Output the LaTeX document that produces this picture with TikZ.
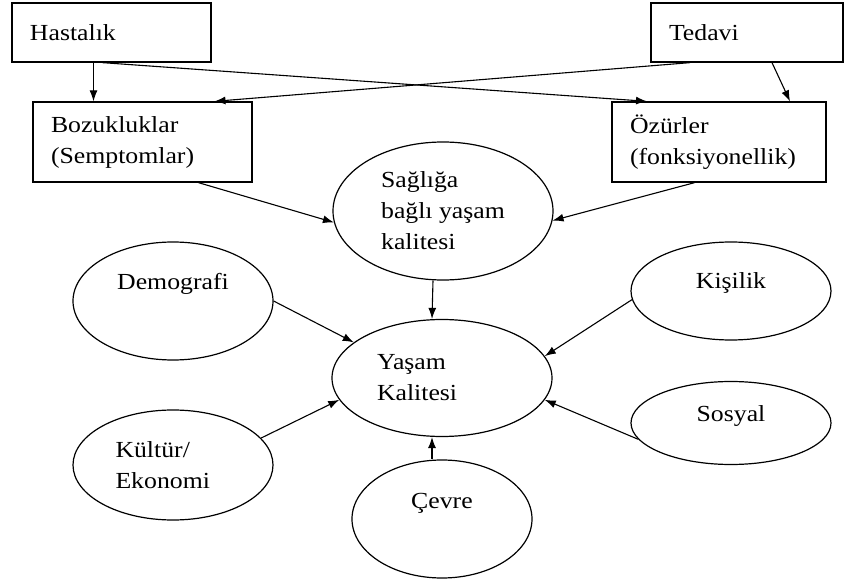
\documentclass[tikz,border=0pt]{standalone}
\usepackage{fontspec}
\setmainfont[FakeStretch=1.12]{Liberation Serif}
\usetikzlibrary{shapes.geometric, arrows.meta}

\begin{document}
\begin{tikzpicture}[x=1pt, y=-1pt, font=\fontsize{23}{31}\selectfont,
    kutu/.style={draw, line width=1.3pt, align=left, inner xsep=18pt, inner ysep=0pt},
    oval/.style={draw, ellipse, line width=1.2pt, align=left, inner sep=0pt},
    ok/.style={line width=1.1pt, -{Latex[length=11pt, width=8pt]}}]

    \useasboundingbox (0, 0) rectangle (844, 585);

    % ust kutular
    \node [kutu, text width=163pt, minimum height=59pt] (hastalik) at (111.5, 32.5) {Hastalık};

    \node [kutu, text width=156pt, minimum height=59pt] (tedavi) at (747, 32.5) {Tedavi};

    \node [kutu, text width=183pt, minimum height=80pt] (bozukluk) at (142.5, 142)
    {Bozukluklar\\(Semptomlar)};

    \node [kutu, text width=178pt, minimum height=80pt] (ozur) at (719, 142)
    {Özürler\\(fonksiyonellik)};

    % elipsler
    \node [oval, minimum width=220pt, minimum height=138pt] (saglik) at (443, 211)
    {Sağlığa\\bağlı yaşam\\kalitesi};

    \node [oval, text width=130pt, minimum width=220pt, minimum height=117pt] (yasam)
    at (442, 378) {Yaşam\\Kalitesi};

    \node [oval, minimum width=200pt, minimum height=118pt, text depth=40pt] (demografi)
    at (173, 301) {Demografi};

    \node [oval, minimum width=200pt, minimum height=98pt, text depth=20pt] (kisilik)
    at (731, 291) {Kişilik};

    \node [oval, text width=115pt, minimum width=200pt, minimum height=110pt] (kultur)
    at (173, 465) {Kültür/\\Ekonomi};

    \node [oval, minimum width=200pt, minimum height=83pt, text depth=18pt] (sosyal)
    at (731, 423) {Sosyal};

    \node [oval, minimum width=180pt, minimum height=118pt, text depth=36pt] (cevre)
    at (442, 519) {Çevre};

    % oklar
    \draw [ok] ([xshift=-18pt]hastalik.south) -- ([xshift=-18pt]hastalik.south |- bozukluk.north);

    \draw [ok] ([xshift=-9pt]hastalik.south) -- ([xshift=-72pt]ozur.north);

    \draw [ok] ([xshift=-57pt]tedavi.south) -- ([xshift=72pt]bozukluk.north);

    \draw [ok] ([xshift=25pt]tedavi.south) -- ([xshift=71pt]ozur.north);

    \draw [ok] (bozukluk.-36) -- (saglik.186);

    \draw [ok] (ozur.-121) -- (saglik.-5);

    \draw [ok] ([xshift=-10pt]saglik.south) -- ([xshift=-10pt]yasam.north);

    \draw [ok] (demografi.east) -- (yasam.158);

    \draw [ok] (kultur.17) -- (yasam.192);

    \draw [ok] (kisilik.185) -- (yasam.12);

    \draw [ok] (sosyal.190) -- (yasam.-12);

    \draw [ok] ([xshift=-10pt]cevre.north) -- ([xshift=-10pt]yasam.south);

\end{tikzpicture}
\end{document}
